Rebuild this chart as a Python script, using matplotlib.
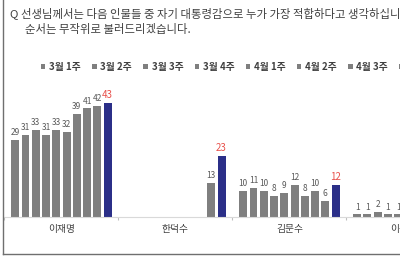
import matplotlib
matplotlib.use('Agg')
import matplotlib.pyplot as plt
import numpy as np
from matplotlib.lines import Line2D

plt.rcParams['font.family'] = ['Noto Sans CJK KR', 'DejaVu Sans']

nan = np.nan
weeks = ['3월 1주', '3월 2주', '3월 3주', '3월 4주', '4월 1주', '4월 2주', '4월 3주',
         '4월 4주', '5월 1주', '5월 2주']
candidates = ['이재명', '한덕수', '김문수', '이준석']
lee_jm = [29, 31, 33, 31, 33, 32, 39, 41, 42, 43]
han_ds = [nan, nan, nan, nan, nan, nan, nan, nan, 13, 23]
kim_ms = [10, 11, 10, 8, 9, 12, 8, 10, 6, 12]
lee_js = [1, 1, 2, 1, 1, nan, nan, nan, nan, nan]
question_1 = '선생님께서는 다음 인물들 중 자기 대통령감으로 누가 가장 적합하다고 생각하십니까?'
question_2 = '순서는 무작위로 불러드리겠습니다.'

values = np.array([lee_jm, han_ds, kim_ms, lee_js], dtype=float)

W, H = 400, 260
fig = plt.figure(figsize=(W / 100, H / 100), dpi=100)
fig.patch.set_facecolor('white')

# axes: baseline at y=217px, 2.65 px per unit, group pitch 114 px
ax = fig.add_axes([4.4 / W, 43 / H, 456 / W, 132.5 / H])
ax.set_xlim(-0.5, 3.5)
ax.set_ylim(0, 50)

gray = '#7f7f7f'
navy = '#2b2f88'
pitch = 0.09
bw = 0.07
centers = np.arange(len(candidates))
handles = []
for k in range(len(weeks)):
    xs = centers + (k - 4.5) * pitch
    col = navy if k == len(weeks) - 1 else gray
    bars = ax.bar(xs, values[:, k], width=bw, color=col, linewidth=0)
    handles.append(bars)
    for x, v in zip(xs, values[:, k]):
        if np.isnan(v):
            continue
        if k == len(weeks) - 1:
            ax.annotate(f'{int(v)}', (x, v), xytext=(0, 2), textcoords='offset points',
                        ha='center', va='bottom', fontsize=7, color='#e8504a')
        else:
            ax.annotate(f'{int(v)}', (x, v), xytext=(0, 2), textcoords='offset points',
                        ha='center', va='bottom', fontsize=6, style='italic',
                        color='#595959')

for s in ['top', 'right', 'left']:
    ax.spines[s].set_visible(False)
ax.spines['bottom'].set_color('#d9d9d9')
ax.spines['bottom'].set_linewidth(0.8)
ax.set_yticks([])
ax.set_xticks(centers)
ax.set_xticklabels(candidates, fontsize=7, color='#404040')
ax.tick_params(axis='x', which='major', length=0, pad=5)
ax.set_xticks(np.arange(-0.5, 4.0, 1.0), minor=True)
ax.tick_params(axis='x', which='minor', length=2, color='#bfbfbf', width=0.8)
ax.patch.set_alpha(0)

leg = ax.legend(handles, weeks, ncol=len(weeks), loc='center left',
                bbox_to_anchor=(41 / W, 1 - 67 / H), bbox_transform=fig.transFigure,
                frameon=False, prop={'size': 7, 'weight': 'bold'},
                handlelength=0.45, handleheight=0.45, handletextpad=0.4,
                columnspacing=1.15, borderaxespad=0, borderpad=0)
for t in leg.get_texts():
    t.set_color('#404040')
for h in leg.legend_handles:
    h.set_color(gray)

# title
fig.text(9 / W, 1 - 14 / H, 'Q', fontsize=8.2, color='#404040', va='center')
fig.text(21 / W, 1 - 14 / H, question_1, fontsize=8.2, color='#404040', va='center')
fig.text(25 / W, 1 - 30 / H, question_2, fontsize=8.2, color='#404040', va='center')

# outer frame (left and bottom visible)
fig.add_artist(Line2D([3 / W, 3 / W], [6 / H, 1.0], transform=fig.transFigure,
                      color='#6f6f6f', lw=1))
fig.add_artist(Line2D([3 / W, 1.0], [6 / H, 6 / H], transform=fig.transFigure,
                      color='#6f6f6f', lw=1))

fig.savefig('out.png', dpi=100)
